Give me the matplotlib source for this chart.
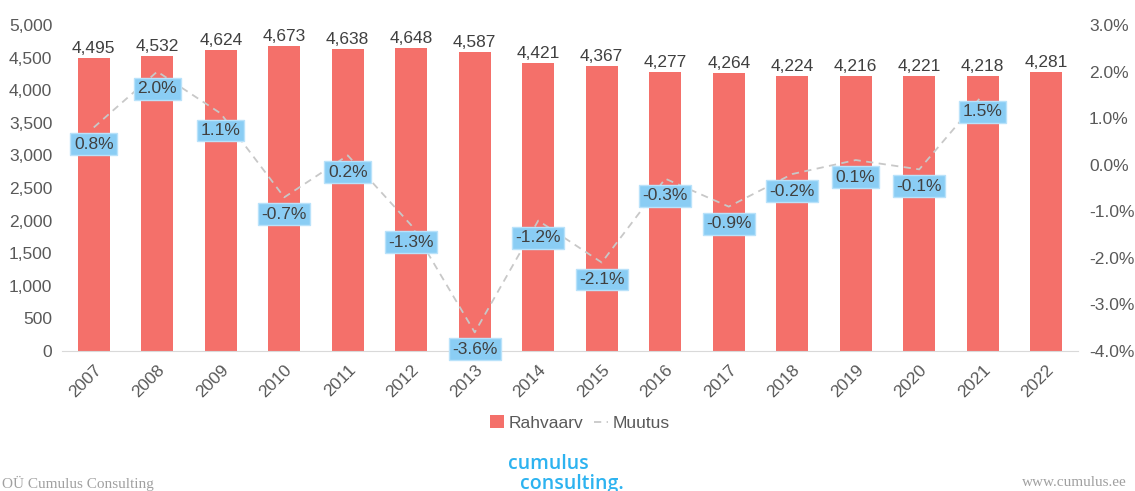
import matplotlib
matplotlib.use("Agg")
import matplotlib.pyplot as plt
from matplotlib.lines import Line2D
from matplotlib.patches import Patch

years = [str(y) for y in range(2007, 2023)]
population = [4495, 4532, 4624, 4673, 4638, 4648, 4587, 4421, 4367, 4277,
              4264, 4224, 4216, 4221, 4218, 4281]
change_pct = [0.8, 2.0, 1.1, -0.7, 0.2, -1.3, -3.6, -1.2, -2.1, -0.3,
              -0.9, -0.2, 0.1, -0.1, 1.5]

plt.rcParams['font.family'] = ['Liberation Sans', 'DejaVu Sans']
W, H = 1135, 491
fig = plt.figure(figsize=(W / 100, H / 100), dpi=100)
ax = fig.add_axes([62 / W, 1 - 351 / H, (1078 - 62) / W, (351 - 25) / H])

bar_color = '#F4706A'
txt_color = '#595959'
fs = 12.5
x = list(range(len(years)))
bars = ax.bar(x, population, width=0.5, color=bar_color, zorder=2)
for xi, v in zip(x, population):
    ax.annotate(f"{v:,}", (xi, v), xytext=(0, 2), textcoords='offset pixels',
                ha='center', va='bottom', fontsize=fs, color='#404040')

ax.set_xlim(-0.5, len(years) - 0.5)
ax.set_ylim(0, 5000)
ax.set_yticks(range(0, 5001, 500))
ax.set_yticklabels([f"{v:,}" for v in range(0, 5001, 500)])
ax.set_xticks(x)
ax.set_xticklabels(years, rotation=45, ha='right', rotation_mode='anchor')
ax.tick_params(axis='both', length=0, colors=txt_color, labelsize=fs)
ax.tick_params(axis='x', pad=8)
ax.tick_params(axis='y', pad=7)
for s in ['top', 'left', 'right']:
    ax.spines[s].set_visible(False)
ax.spines['bottom'].set_color('#D9D9D9')

ax2 = ax.twinx()
ax2.set_ylim(-4, 3)
ax2.set_yticks(range(-4, 4))
ax2.set_yticklabels([f"{v:.1f}%" for v in range(-4, 4)])
ax2.tick_params(axis='y', length=0, colors=txt_color, labelsize=fs, pad=8)
for s in ['top', 'left', 'right', 'bottom']:
    ax2.spines[s].set_visible(False)
xl = x[:len(change_pct)]
ax2.plot(xl, change_pct, color='#C8C8C8', linestyle=(0, (4, 3)), linewidth=1.3, zorder=3)
for xi, v in zip(xl, change_pct):
    ax2.annotate(f"{v:.1f}%", (xi, v), xytext=(0, -17), textcoords='offset pixels',
                 ha='center', va='center', fontsize=fs, color='#404040', zorder=5,
                 bbox=dict(boxstyle='square,pad=0.2', facecolor='#8ACDF4',
                           edgecolor='#B9E2FA', linewidth=1))

handles = [Patch(facecolor=bar_color, edgecolor='none', label='Rahvaarv'),
           Line2D([0], [0], color='#C8C8C8', linestyle=(0, (4, 3)), linewidth=1.3, label='Muutus')]
leg = fig.legend(handles=handles, loc='center', bbox_to_anchor=(580 / W, 1 - 423 / H),
                 ncol=2, frameon=False, fontsize=fs, handlelength=0.8, handleheight=0.7,
                 columnspacing=0.6, handletextpad=0.3)
for t in leg.get_texts():
    t.set_color(txt_color)

fig.text(2 / W, 1 - 483 / H, "OÜ Cumulus Consulting", family='Liberation Serif',
         fontsize=11, color='#A0A0A0', ha='left', va='center')
fig.text(1022 / W, 1 - 483 / H, "www.cumulus.ee", family='Liberation Serif',
         fontsize=11, color='#A0A0A0', ha='left', va='center')
fig.text(508 / W, 1 - 464 / H, "cumulus", family='Open Sans', fontweight='semibold',
         fontsize=14, color='#2DB3F0', ha='left', va='center')
fig.text(520 / W, 1 - 484 / H, "consulting.", family='Open Sans', fontweight='semibold',
         fontsize=14, color='#2DB3F0', ha='left', va='center')

fig.savefig('out.png', dpi=100)
